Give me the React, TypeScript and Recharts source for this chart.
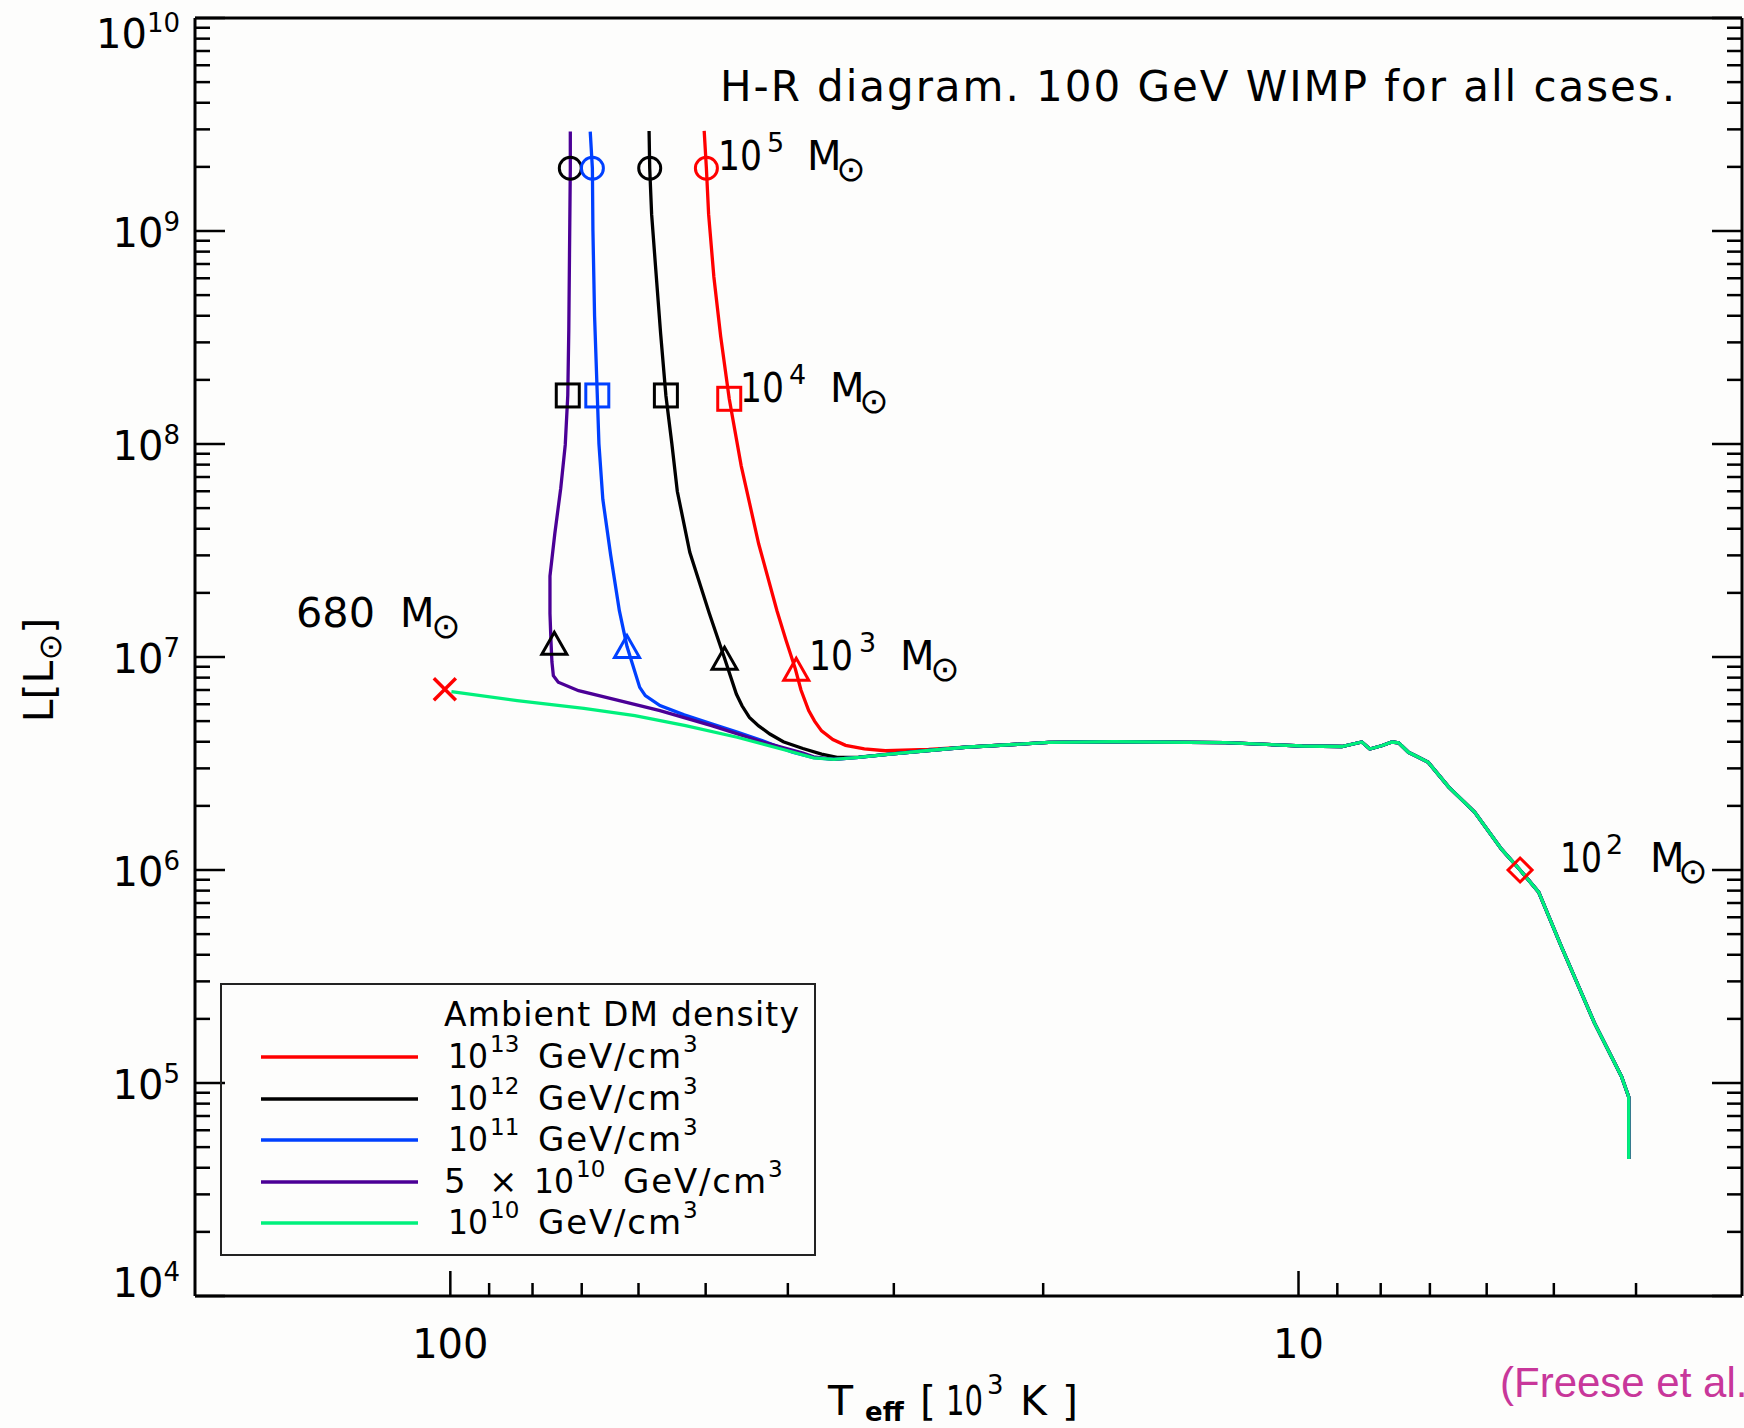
import React from 'react';
import { ComposedChart, Line, Scatter, XAxis, YAxis } from 'recharts';

const W = 1744;
const H = 1428;
const FONT = '"DejaVu Sans", sans-serif';
const BG = '#FDFDFC';

// ---------- axis ticks ----------
const xMajorTicks = [100, 10];
const xMinorTicks = [90, 80, 70, 60, 50, 40, 30, 20, 9, 8, 7, 6, 5, 4];
const xTicks = [...xMajorTicks, ...xMinorTicks];
const yMajorExponents = [4, 5, 6, 7, 8, 9, 10];
const yMinorMultipliers = [2, 3, 4, 5, 6, 7, 8, 9];
const yTicks: number[] = [];
yMajorExponents.forEach((e) => {
  yTicks.push(Math.pow(10, e));
  if (e < 10) yMinorMultipliers.forEach((m) => yTicks.push(m * Math.pow(10, e)));
});

// ---------- tracks (T in 10^3 K, L in Lsun) ----------
const commonTrack = [
  { T: 4.08, L: 4.4e4 },
  { T: 4.08, L: 8.6e4 },
  { T: 4.16, L: 1.07e5 },
  { T: 4.48, L: 1.92e5 },
  { T: 4.9, L: 4.38e5 },
  { T: 5.21, L: 7.87e5 },
  { T: 5.48, L: 1.0e6 },
  { T: 5.76, L: 1.25e6 },
  { T: 6.2, L: 1.87e6 },
  { T: 6.65, L: 2.45e6 },
  { T: 7.03, L: 3.2e6 },
  { T: 7.25, L: 3.41e6 },
  { T: 7.42, L: 3.57e6 },
  { T: 7.62, L: 3.95e6 },
  { T: 7.76, L: 3.99e6 },
  { T: 7.98, L: 3.83e6 },
  { T: 8.24, L: 3.7e6 },
  { T: 8.42, L: 3.99e6 },
  { T: 8.89, L: 3.8e6 },
  { T: 9.9, L: 3.82e6 },
  { T: 12.2, L: 3.96e6 },
  { T: 16.5, L: 4.0e6 },
  { T: 19.7, L: 3.97e6 },
  { T: 24.7, L: 3.77e6 },
];

const branch1e13 = [
  { T: 27.3, L: 3.68e6 },
  { T: 30.7, L: 3.63e6 },
  { T: 32.5, L: 3.7e6 },
  { T: 34.2, L: 3.85e6 },
  { T: 35.4, L: 4.1e6 },
  { T: 36.5, L: 4.5e6 },
  { T: 37.2, L: 5.0e6 },
  { T: 37.8, L: 5.6e6 },
  { T: 38.6, L: 7.0e6 },
  { T: 39.2, L: 8.8e6 },
  { T: 40.2, L: 1.2e7 },
  { T: 41.2, L: 1.65e7 },
  { T: 43.3, L: 3.4e7 },
  { T: 45.4, L: 7.9e7 },
  { T: 46.9, L: 1.63e8 },
  { T: 48.0, L: 3.2e8 },
  { T: 48.9, L: 6.1e8 },
  { T: 49.6, L: 1.2e9 },
  { T: 49.9, L: 1.97e9 },
  { T: 50.2, L: 2.95e9 },
];

const branch1e12 = [
  { T: 27.5, L: 3.63e6 },
  { T: 30.3, L: 3.5e6 },
  { T: 33.0, L: 3.39e6 },
  { T: 35.0, L: 3.38e6 },
  { T: 36.5, L: 3.5e6 },
  { T: 38.4, L: 3.72e6 },
  { T: 40.5, L: 4.0e6 },
  { T: 42.0, L: 4.35e6 },
  { T: 43.3, L: 4.75e6 },
  { T: 44.4, L: 5.2e6 },
  { T: 45.3, L: 5.9e6 },
  { T: 46.0, L: 6.7e6 },
  { T: 47.5, L: 9.87e6 },
  { T: 49.5, L: 1.6e7 },
  { T: 52.2, L: 3.1e7 },
  { T: 54.0, L: 6.0e7 },
  { T: 54.8, L: 1.0e8 },
  { T: 55.7, L: 1.69e8 },
  { T: 56.5, L: 3.3e8 },
  { T: 57.3, L: 6.9e8 },
  { T: 57.9, L: 1.2e9 },
  { T: 58.2, L: 1.97e9 },
  { T: 58.3, L: 2.95e9 },
];

const branch1e11 = [
  { T: 27.5, L: 3.63e6 },
  { T: 30.3, L: 3.5e6 },
  { T: 33.0, L: 3.38e6 },
  { T: 35.3, L: 3.31e6 },
  { T: 37.3, L: 3.37e6 },
  { T: 39.5, L: 3.57e6 },
  { T: 42.9, L: 4.05e6 },
  { T: 46.0, L: 4.45e6 },
  { T: 49.2, L: 4.85e6 },
  { T: 53.0, L: 5.35e6 },
  { T: 56.6, L: 5.91e6 },
  { T: 58.9, L: 6.59e6 },
  { T: 59.8, L: 7.2e6 },
  { T: 61.9, L: 1.12e7 },
  { T: 63.2, L: 1.65e7 },
  { T: 64.7, L: 3.0e7 },
  { T: 66.1, L: 5.5e7 },
  { T: 66.8, L: 1.0e8 },
  { T: 67.1, L: 1.69e8 },
  { T: 67.6, L: 4.0e8 },
  { T: 67.9, L: 1.0e9 },
  { T: 68.0, L: 1.97e9 },
  { T: 68.4, L: 2.93e9 },
];

const branch5e10 = [
  { T: 27.5, L: 3.63e6 },
  { T: 30.3, L: 3.5e6 },
  { T: 33.0, L: 3.38e6 },
  { T: 35.3, L: 3.31e6 },
  { T: 37.3, L: 3.4e6 },
  { T: 38.4, L: 3.54e6 },
  { T: 42.9, L: 4.0e6 },
  { T: 49.2, L: 4.76e6 },
  { T: 56.6, L: 5.6e6 },
  { T: 63.2, L: 6.24e6 },
  { T: 70.6, L: 6.95e6 },
  { T: 74.6, L: 7.61e6 },
  { T: 75.6, L: 8.17e6 },
  { T: 75.9, L: 9.5e6 },
  { T: 76.1, L: 1.2e7 },
  { T: 76.3, L: 1.6e7 },
  { T: 76.3, L: 2.4e7 },
  { T: 75.3, L: 3.8e7 },
  { T: 74.1, L: 6.2e7 },
  { T: 73.2, L: 9.9e7 },
  { T: 72.7, L: 1.69e8 },
  { T: 72.5, L: 3.4e8 },
  { T: 72.3, L: 1.1e9 },
  { T: 72.2, L: 1.97e9 },
  { T: 72.2, L: 2.93e9 },
];

const branch1e10 = [
  { T: 27.5, L: 3.63e6 },
  { T: 30.3, L: 3.5e6 },
  { T: 33.0, L: 3.38e6 },
  { T: 35.3, L: 3.31e6 },
  { T: 37.3, L: 3.36e6 },
  { T: 40.0, L: 3.63e6 },
  { T: 45.9, L: 4.2e6 },
  { T: 52.8, L: 4.76e6 },
  { T: 60.6, L: 5.3e6 },
  { T: 69.6, L: 5.74e6 },
  { T: 83.4, L: 6.24e6 },
  { T: 99.7, L: 6.88e6 },
];

// ---------- mass milestones ----------
const mass1e5 = [
  { T: 72.2, L: 1.97e9, track: 'p' },
  { T: 68.0, L: 1.97e9, track: 'b' },
  { T: 58.2, L: 1.97e9, track: 'k' },
  { T: 49.9, L: 1.97e9, track: 'r' },
];
const mass1e4 = [
  { T: 72.7, L: 1.69e8, track: 'p' },
  { T: 67.1, L: 1.69e8, track: 'b' },
  { T: 55.7, L: 1.69e8, track: 'k' },
  { T: 46.9, L: 1.63e8, track: 'r' },
];
const mass1e3 = [
  { T: 75.4, L: 1.16e7, track: 'p' },
  { T: 61.9, L: 1.12e7, track: 'b' },
  { T: 47.5, L: 9.87e6, track: 'k' },
  { T: 39.1, L: 8.76e6, track: 'r' },
];
const mass680 = [{ T: 101.5, L: 7.05e6, track: 'r' }];
const mass1e2 = [{ T: 5.48, L: 1.0e6, track: 'r' }];

// ---------- series / legend ----------
const RED = '#FF0000';
const BLACK = '#000000';
const BLUE = '#0040FF';
const PURPLE = '#4B0096';
const GREEN = '#00F07C';
const MAGENTA = '#C8379A';

const seriesList = [
  { key: 'r', color: RED, data: [...commonTrack, ...branch1e13], pre: '', exp: '13' },
  { key: 'k', color: BLACK, data: [...commonTrack, ...branch1e12], pre: '', exp: '12' },
  { key: 'b', color: BLUE, data: [...commonTrack, ...branch1e11], pre: '', exp: '11' },
  { key: 'p', color: PURPLE, data: [...commonTrack, ...branch5e10], pre: '5 \u00d7 ', exp: '10' },
  { key: 'g', color: GREEN, data: [...commonTrack, ...branch1e10], pre: '', exp: '10' },
];
const markerColor: Record<string, string> = { p: BLACK, b: BLUE, k: BLACK, r: RED };

// ---------- marker shapes ----------
const SW = 3;
const CircleMark = (p: any) => (
  <circle cx={p.cx} cy={p.cy} r={11} fill="none" stroke={markerColor[p.payload.track]} strokeWidth={SW} />
);
const SquareMark = (p: any) => (
  <rect x={p.cx - 11.5} y={p.cy - 11.5} width={23} height={23} fill="none" stroke={markerColor[p.payload.track]} strokeWidth={SW} />
);
const TriMark = (p: any) => (
  <polygon
    points={`${p.cx},${p.cy - 11} ${p.cx - 12.5},${p.cy + 11} ${p.cx + 12.5},${p.cy + 11}`}
    fill="none"
    stroke={markerColor[p.payload.track]}
    strokeWidth={SW}
    strokeLinejoin="miter"
  />
);
const CrossMark = (p: any) => (
  <g stroke={markerColor[p.payload.track]} strokeWidth={3.5}>
    <line x1={p.cx - 11} y1={p.cy - 11} x2={p.cx + 11} y2={p.cy + 11} />
    <line x1={p.cx - 11} y1={p.cy + 11} x2={p.cx + 11} y2={p.cy - 11} />
  </g>
);
const DiamondMark = (p: any) => (
  <polygon
    points={`${p.cx},${p.cy - 12} ${p.cx + 12},${p.cy} ${p.cx},${p.cy + 12} ${p.cx - 12},${p.cy}`}
    fill="none"
    stroke={markerColor[p.payload.track]}
    strokeWidth={SW}
  />
);

// ---------- ticks ----------
const isMajorY = (v: number) => {
  const e = Math.log10(v);
  return Math.abs(e - Math.round(e)) < 1e-6;
};

const BottomTick = (props: any) => {
  const { x, y, payload } = props;
  const v = payload.value;
  const major = xMajorTicks.includes(v);
  return (
    <g>
      <line x1={x} x2={x} y1={y} y2={y - (major ? 25 : 13)} stroke="#000" strokeWidth={2.5} />
      {major && (
        <text x={x} y={y + 62} textAnchor="middle" fontSize={40} fontFamily={FONT} fill="#000">
          {v}
        </text>
      )}
    </g>
  );
};
const TopTick = (props: any) => {
  const { x, y, payload } = props;
  const major = xMajorTicks.includes(payload.value);
  return <line x1={x} x2={x} y1={y} y2={y + (major ? 25 : 13)} stroke="#000" strokeWidth={2.5} />;
};
const LeftTick = (props: any) => {
  const { x, y, payload } = props;
  const v = payload.value;
  const major = isMajorY(v);
  const e = Math.round(Math.log10(v));
  let dy = 16;
  if (e === 10) dy = 30;
  if (e === 4) dy = 1;
  return (
    <g>
      <line x1={x} x2={x + (major ? 30 : 15)} y1={y} y2={y} stroke="#000" strokeWidth={2.5} />
      {major && (
        <text x={x - 15} y={y + dy} textAnchor="end" fontSize={40} fontFamily={FONT} fill="#000">
          10
          <tspan fontSize={26} dy={-16}>
            {String(e)}
          </tspan>
        </text>
      )}
    </g>
  );
};
const RightTick = (props: any) => {
  const { x, y, payload } = props;
  const major = isMajorY(payload.value);
  return <line x1={x} x2={x - (major ? 30 : 15)} y1={y} y2={y} stroke="#000" strokeWidth={2.5} />;
};

// ---------- text helpers ----------
const Sun = ({ cx, cy, size = 35 }: { cx: number; cy: number; size?: number }) => (
  <text x={cx} y={cy} fontSize={size} textAnchor="middle" dominantBaseline="central" fontFamily={FONT} fill="#000">
    {'\u2299'}
  </text>
);

const MassLabel = ({ x, y, base, baseLen, exp, mx, sx, sunx }: any) => (
  <g>
    <text x={x} y={y} fontSize={40} fontFamily={FONT} fill="#000" textLength={baseLen} lengthAdjust="spacingAndGlyphs">
      {base}
    </text>
    {exp && (
      <text x={sx} y={y - 18} fontSize={27} fontFamily={FONT} fill="#000">
        {exp}
      </text>
    )}
    <text x={mx} y={y} fontSize={40} fontFamily={FONT} fill="#000">
      M
    </text>
    <Sun cx={sunx} cy={y - 1} />
  </g>
);

const legendRowsY = [1068, 1110, 1151, 1193, 1234];

const Overlay = () => (
  <svg width={W} height={H} style={{ position: 'absolute', left: 0, top: 0, pointerEvents: 'none' }}>
    {/* title */}
    <text x={720} y={101} fontSize={42} fontFamily={FONT} textLength={955} lengthAdjust="spacing" fill="#000">
      H-R diagram. 100 GeV WIMP for all cases.
    </text>

    {/* mass annotations */}
    <MassLabel x={718} y={170} base="10" baseLen={44} exp="5" sx={767} mx={807} sunx={851} />
    <MassLabel x={740} y={402} base="10" baseLen={44} exp="4" sx={789} mx={830} sunx={874} />
    <MassLabel x={296} y={627} base="680" baseLen={79} exp="" sx={0} mx={400} sunx={446} />
    <MassLabel x={809} y={670} base="10" baseLen={44} exp="3" sx={859} mx={900} sunx={945} />
    <MassLabel x={1560} y={872} base="10" baseLen={42} exp="2" sx={1606} mx={1650} sunx={1693} />

    {/* legend */}
    <rect x={221} y={984} width={594} height={271} fill="none" stroke="#222" strokeWidth={2} />
    <text x={444} y={1026} fontSize={33} fontFamily={FONT} textLength={355} lengthAdjust="spacing" fill="#000">
      Ambient DM density
    </text>
    {seriesList.map((s, i) => {
      const y = legendRowsY[i];
      const hasPre = s.pre !== '';
      const baseX = hasPre ? 534 : 448;
      return (
        <g key={s.key}>
          <line x1={261} x2={418} y1={y - 11} y2={y - 11} stroke={s.color} strokeWidth={3.5} />
          {hasPre && (
            <text x={444} y={y} fontSize={34} fontFamily={FONT} fill="#000">
              {'5'}
              <tspan x={489}>{'\u00d7'}</tspan>
            </text>
          )}
          <text x={baseX} y={y} fontSize={34} fontFamily={FONT} fill="#000" textLength={40} lengthAdjust="spacingAndGlyphs">
            10
          </text>
          <text x={baseX + 42} y={y - 16} fontSize={23} fontFamily={FONT} fill="#000">
            {s.exp}
          </text>
          <text x={hasPre ? 623 : 538} y={y} fontSize={34} fontFamily={FONT} fill="#000" textLength={143} lengthAdjust="spacing">
            GeV/cm
          </text>
          <text x={hasPre ? 768 : 683} y={y - 16} fontSize={23} fontFamily={FONT} fill="#000">
            3
          </text>
        </g>
      );
    })}

    {/* y axis title */}
    <text transform="translate(53,670) rotate(-90)" textAnchor="middle" fontSize={41} fontFamily={FONT} fill="#000">
      L[L
      <tspan fontSize={32} dy={8}>
        {'\u2299'}
      </tspan>
      <tspan dy={-8}>]</tspan>
    </text>

    {/* x axis title */}
    <text x={828} y={1415} fontSize={41} fontFamily={FONT} fill="#000">
      T
    </text>
    <text x={865} y={1421} fontSize={26} fontWeight="bold" fontFamily={FONT} fill="#000">
      eff
    </text>
    <text x={920} y={1415} fontSize={41} fontFamily={FONT} fill="#000">
      [
    </text>
    <text x={946} y={1415} fontSize={41} fontFamily={FONT} fill="#000" textLength={37} lengthAdjust="spacingAndGlyphs">
      10
    </text>
    <text x={987} y={1394} fontSize={26} fontFamily={FONT} fill="#000">
      3
    </text>
    <text x={1020} y={1415} fontSize={41} fontFamily={FONT} fill="#000">
      K
    </text>
    <text x={1062} y={1415} fontSize={41} fontFamily={FONT} fill="#000">
      ]
    </text>

    {/* citation */}
    <text x={1500} y={1397} fontSize={42} fontFamily='"Liberation Sans", Arial, sans-serif' fill={MAGENTA}>
      (Freese et al.
    </text>
  </svg>
);

export default function App() {
  const axisLine = { stroke: '#000', strokeWidth: 3 };
  return (
    <div style={{ position: 'absolute', left: 0, top: 0, width: W, height: H, background: BG, fontFamily: FONT }}>
      <ComposedChart width={W} height={H} margin={{ top: 17, right: 1, bottom: 0, left: 0 }}>
        <XAxis
          xAxisId="b"
          dataKey="T"
          type="number"
          scale="log"
          domain={[3, 200]}
          allowDataOverflow
          reversed
          ticks={xTicks}
          interval={0}
          tickSize={0}
          tickMargin={0}
          tickLine={false}
          axisLine={axisLine}
          tick={BottomTick}
          height={132}
          orientation="bottom"
        />
        <XAxis
          xAxisId="t"
          type="number"
          scale="log"
          domain={[3, 200]}
          allowDataOverflow
          reversed
          ticks={xTicks}
          interval={0}
          tickSize={0}
          tickMargin={0}
          tickLine={false}
          axisLine={axisLine}
          tick={TopTick}
          height={1}
          orientation="top"
        />
        <YAxis
          yAxisId="l"
          dataKey="L"
          type="number"
          scale="log"
          domain={[1e4, 1e10]}
          allowDataOverflow
          ticks={yTicks}
          interval={0}
          tickSize={0}
          tickMargin={0}
          tickLine={false}
          axisLine={axisLine}
          tick={LeftTick}
          width={195}
          orientation="left"
        />
        <YAxis
          yAxisId="r"
          type="number"
          scale="log"
          domain={[1e4, 1e10]}
          allowDataOverflow
          ticks={yTicks}
          interval={0}
          tickSize={0}
          tickMargin={0}
          tickLine={false}
          axisLine={axisLine}
          tick={RightTick}
          width={1}
          orientation="right"
        />
        {seriesList.map((s) => (
          <Line
            key={s.key}
            xAxisId="b"
            yAxisId="l"
            data={s.data}
            dataKey="L"
            type="linear"
            stroke={s.color}
            strokeWidth={3.3}
            dot={false}
            activeDot={false}
            isAnimationActive={false}
          />
        ))}
        <Scatter xAxisId="b" yAxisId="l" data={mass1e5} dataKey="L" shape={CircleMark} isAnimationActive={false} />
        <Scatter xAxisId="b" yAxisId="l" data={mass1e4} dataKey="L" shape={SquareMark} isAnimationActive={false} />
        <Scatter xAxisId="b" yAxisId="l" data={mass1e3} dataKey="L" shape={TriMark} isAnimationActive={false} />
        <Scatter xAxisId="b" yAxisId="l" data={mass680} dataKey="L" shape={CrossMark} isAnimationActive={false} />
        <Scatter xAxisId="b" yAxisId="l" data={mass1e2} dataKey="L" shape={DiamondMark} isAnimationActive={false} />
      </ComposedChart>
      <Overlay />
    </div>
  );
}
